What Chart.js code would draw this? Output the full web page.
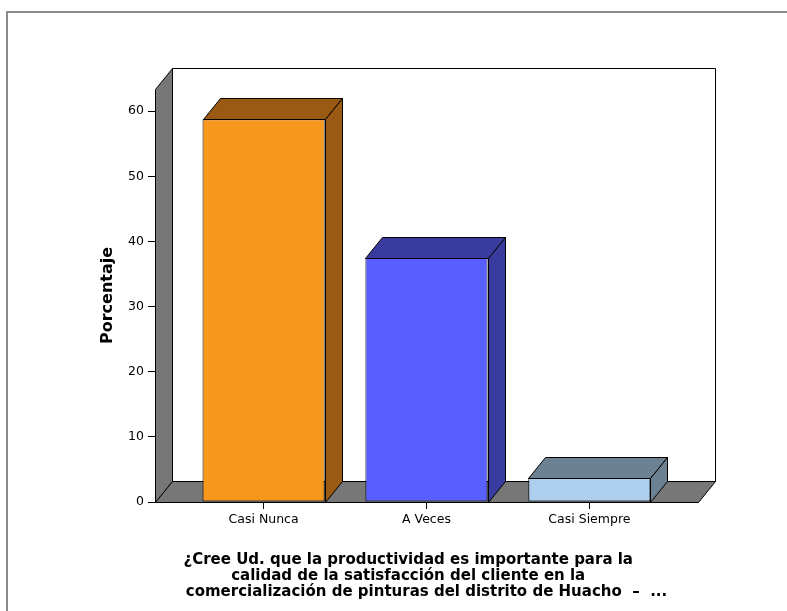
<!DOCTYPE html>
<html>
<head>
<meta charset="utf-8">
<script src="https://cdn.jsdelivr.net/npm/chart.js@4.4.1/dist/chart.umd.min.js"></script>
<style>
  body { margin: 0; background: #fff; }
</style>
</head>
<body>
<canvas id="myChart" width="787" height="611"></canvas>
<script>
const categories = [ 'Casi Nunca', 'A Veces', 'Casi Siempre' ];
const percentages = [ 58.75, 37.5, 3.75 ];
const yTickValues = [ 0, 10, 20, 30, 40, 50, 60 ];
const xTitle = [
  '¿Cree Ud. que la productividad es importante para la\u00a0\u00a0\u00a0\u00a0\u00a0\u00a0\u00a0',
  'calidad de la satisfacción del cliente en la\u00a0\u00a0\u00a0\u00a0\u00a0\u00a0\u00a0',
  'comercialización de pinturas del distrito de Huacho  –  ...'
];

const frontColors = [ '#f7971e', '#5a5fff', '#aed0ee' ];
const shadeColors = [ '#9a5a14', '#393c9e', '#6c8292' ];

// depth of the 3d box (pixels)
const DX = 17;
const DY = -21;

function poly( ctx, pts, fill ) {
  ctx.beginPath();
  ctx.moveTo( pts[0][0], pts[0][1] );
  for ( let i = 1; i < pts.length; i++ ) ctx.lineTo( pts[i][0], pts[i][1] );
  ctx.closePath();
  ctx.fillStyle = fill;
  ctx.fill();
  ctx.stroke();
}

const box3d = {
  id: 'box3d',
  beforeDraw( chart ) {
    const ctx = chart.ctx;
    ctx.save();
    ctx.strokeStyle = '#8c8c8c';
    ctx.lineWidth = 2;
    ctx.strokeRect( 7, 12, 900, 700 );
    ctx.restore();
  },
  beforeDatasetsDraw( chart ) {
    const { ctx, scales: { x, y } } = chart;
    const l = Math.round( x.left ) + 0.5;
    const r = Math.round( x.right ) + 0.5;
    const t = Math.round( y.top ) + 0.5;
    const b = Math.round( y.getPixelForValue( 0 ) ) + 0.5;
    ctx.save();
    ctx.strokeStyle = '#000';
    ctx.lineWidth = 1;
    // back wall
    poly( ctx, [ [ l + DX, t + DY ], [ r + DX, t + DY ], [ r + DX, b + DY ], [ l + DX, b + DY ] ], '#ffffff' );
    // left wall
    poly( ctx, [ [ l, t ], [ l + DX, t + DY ], [ l + DX, b + DY ], [ l, b ] ], '#777777' );
    // floor
    poly( ctx, [ [ l, b ], [ r, b ], [ r + DX, b + DY ], [ l + DX, b + DY ] ], '#777777' );
    ctx.restore();
  },
  afterDatasetsDraw( chart ) {
    const ctx = chart.ctx;
    const meta = chart.getDatasetMeta( 0 );
    ctx.save();
    ctx.strokeStyle = '#000';
    ctx.lineWidth = 1;
    meta.data.forEach( ( bar, i ) => {
      const { x, y, base, width } = bar.getProps( [ 'x', 'y', 'base', 'width' ], true );
      const L = Math.round( x - width / 2 ) + 0.5;
      const R = Math.round( x + width / 2 ) + 0.5;
      const T = Math.round( y ) + 0.5;
      const B = Math.round( base ) + 0.5;
      poly( ctx, [ [ L, T ], [ R, T ], [ R + DX, T + DY ], [ L + DX, T + DY ] ], shadeColors[i] );
      poly( ctx, [ [ R, T ], [ R + DX, T + DY ], [ R + DX, B + DY ], [ R, B ] ], shadeColors[i] );
    } );
    ctx.restore();
  }
};

const tickFont = { family: 'DejaVu Sans', size: 12.5 };
const titleFont = { family: 'DejaVu Sans', size: 15, weight: 'bold', lineHeight: '16px' };

const ctx = document.getElementById( 'myChart' ).getContext( '2d' );
const myChart = new Chart( ctx, {
  type: 'bar',
  data: {
    datasets: [ {
      label: 'Porcentaje',
      data: percentages.map( ( v, i ) => ( { x: i, y: v } ) ),
      backgroundColor: frontColors,
      borderColor: '#000',
      borderWidth: 1,
      borderSkipped: false,
      barPercentage: 0.75,
      categoryPercentage: 1
    } ]
  },
  options: {
    responsive: false,
    animation: false,
    layout: { padding: { left: 0, top: 89, right: 89, bottom: 0 } },
    plugins: {
      legend: { display: false },
      tooltip: { enabled: false }
    },
    scales: {
      x: {
        type: 'linear',
        offset: false,
        min: -2 / 3,
        max: 8 / 3,
        afterBuildTicks: scale => { scale.ticks = categories.map( ( c, i ) => ( { value: i } ) ); },
        afterFit: scale => { scale.height = 109; },
        ticks: {
          autoSkip: false,
          maxRotation: 0,
          padding: 3,
          color: '#000',
          font: tickFont,
          callback: v => categories[v]
        },
        grid: { offset: false, drawOnChartArea: false, drawTicks: true, tickLength: 7, color: '#000' },
        border: { display: false },
        title: {
          display: true,
          text: xTitle,
          color: '#000',
          font: titleFont,
          padding: { top: 0, bottom: 11 }
        }
      },
      y: {
        min: 0,
        max: 63.4,
        afterBuildTicks: scale => { scale.ticks = yTickValues.map( v => ( { value: v } ) ); },
        afterFit: scale => { scale.width = 155; },
        ticks: {
          padding: 4,
          color: '#000',
          font: tickFont
        },
        grid: { drawOnChartArea: false, drawTicks: true, tickLength: 7, color: '#000' },
        border: { display: false },
        title: {
          display: true,
          text: 'Porcentaje',
          color: '#000',
          font: { family: 'DejaVu Sans', size: 16, weight: 'bold', lineHeight: '16px' },
          padding: { top: 100, bottom: 0 }
        }
      }
    }
  },
  plugins: [ box3d ]
} );
</script>
</body>
</html>
